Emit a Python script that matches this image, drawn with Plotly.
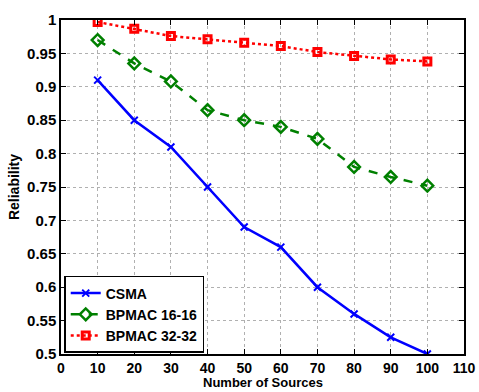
import plotly.graph_objects as go

sources = [10, 20, 30, 40, 50, 60, 70, 80, 90, 100]
csma = [0.91, 0.85, 0.81, 0.75, 0.69, 0.66, 0.60, 0.56, 0.525, 0.50]
bpmac16 = [0.97, 0.935, 0.908, 0.865, 0.85, 0.84, 0.822, 0.78, 0.765, 0.752]
bpmac32 = [0.997, 0.987, 0.976, 0.971, 0.966, 0.961, 0.952, 0.946, 0.941, 0.938]
x_ticks = [0, 10, 20, 30, 40, 50, 60, 70, 80, 90, 100, 110]
y_ticks = [0.5, 0.55, 0.6, 0.65, 0.7, 0.75, 0.8, 0.85, 0.9, 0.95, 1]
y_tick_text = ["0.5", "0.55", "0.6", "0.65", "0.7", "0.75", "0.8", "0.85", "0.9", "0.95", "1"]

fig = go.Figure()
fig.add_trace(go.Scatter(x=sources, y=csma, name="CSMA", mode="lines+markers",
                         line=dict(color="#0000ff", width=2.5),
                         marker=dict(symbol="x-thin", size=7, color="#0000ff",
                                     line=dict(color="#0000ff", width=2))))
fig.add_trace(go.Scatter(x=sources, y=bpmac16, name="BPMAC 16-16", mode="lines+markers",
                         line=dict(color="#008000", width=2.5, dash="dash"),
                         marker=dict(symbol="diamond-open", size=9, color="#008000",
                                     line=dict(color="#008000", width=2.5))))
fig.add_trace(go.Scatter(x=sources, y=bpmac32, name="BPMAC 32-32", mode="lines+markers",
                         line=dict(color="#ff0000", width=2.5, dash="dot"),
                         marker=dict(symbol="square-open", size=7, color="#ff0000",
                                     line=dict(color="#ff0000", width=3))))

font = "Liberation Sans"
bottom = 38
fig.update_layout(
    width=479, height=392,
    margin=dict(l=61, r=15, t=20, b=bottom),
    plot_bgcolor="white", paper_bgcolor="white",
    font=dict(family=font, size=15, color="black"),
    showlegend=True,
    legend=dict(x=0.008, y=0.003, xanchor="left", yanchor="bottom",
                bgcolor="white", bordercolor="black", borderwidth=1.5,
                font=dict(family=font, size=14, color="black", weight="bold"),
                tracegroupgap=0, itemwidth=30),
    annotations=[dict(text="Number of Sources", xref="paper", yref="paper",
                      x=0.5, y=-bottom / (392 - 20 - bottom), xanchor="center", yanchor="bottom",
                      showarrow=False, yshift=0,
                      font=dict(family=font, size=13, weight="bold", color="black"))],
)
fig.update_xaxes(range=[0, 110], tickvals=x_ticks, showgrid=True, automargin=False,
                 gridcolor="#b0b0b0", griddash="dot", gridwidth=1,
                 showline=True, linecolor="black", linewidth=1.5, mirror="ticks",
                 ticks="inside", ticklen=5, tickcolor="black", zeroline=False,
                 tickfont=dict(family=font, size=14, weight="bold"))
fig.update_yaxes(range=[0.5, 1], tickvals=y_ticks, ticktext=y_tick_text, showgrid=True, automargin=False,
                 gridcolor="#b0b0b0", griddash="dot", gridwidth=1,
                 showline=True, linecolor="black", linewidth=1.5, mirror="ticks",
                 ticks="inside", ticklen=5, tickcolor="black", zeroline=False,
                 tickfont=dict(family=font, size=15, weight="bold"),
                 title=dict(text="Reliability", standoff=4,
                            font=dict(family=font, size=14, weight="bold")))

fig.write_html("out.html")
